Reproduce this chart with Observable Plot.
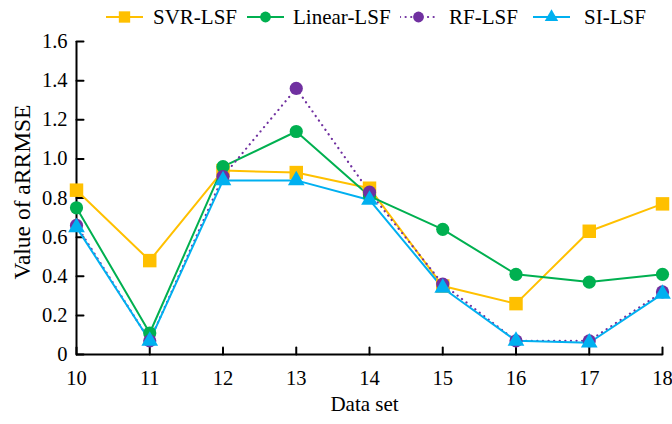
<!DOCTYPE html>
<html>
<head>
<meta charset="utf-8">
<script src="https://cdn.jsdelivr.net/npm/d3@7"></script>
<script src="https://cdn.jsdelivr.net/npm/@observablehq/plot@0.6"></script>
<style>
  html, body { margin: 0; padding: 0; background: #fff; }
  body { width: 672px; height: 424px; overflow: hidden; font-family: "Liberation Serif", serif; }
  #legend { position: relative; height: 32px; width: 672px; }
  .item { position: absolute; top: 0; height: 32px; display: flex; align-items: center; font-size: 21px; color: #000; white-space: nowrap; font-family: "Liberation Serif", serif; }
  .item svg { display: block; }
  #chart svg text { font-family: "Liberation Serif", serif; }
</style>
</head>
<body>
<div id="legend"></div>
<div id="chart"></div>
<script>
const dataSets = [10, 11, 12, 13, 14, 15, 16, 17, 18];
const seriesNames = ["SVR-LSF", "Linear-LSF", "RF-LSF", "SI-LSF"];
const svrValues    = [0.84, 0.48, 0.94, 0.93, 0.85, 0.35, 0.26, 0.63, 0.77];
const linearValues = [0.75, 0.11, 0.96, 1.14, 0.81, 0.64, 0.41, 0.37, 0.41];
const rfValues     = [0.66, 0.07, 0.91, 1.36, 0.83, 0.36, 0.07, 0.07, 0.32];
const siValues     = [0.65, 0.07, 0.89, 0.89, 0.79, 0.34, 0.07, 0.06, 0.31];
const yTicks = [0, 0.2, 0.4, 0.6, 0.8, 1.0, 1.2, 1.4, 1.6];
const yTickLabels = ["0", "0.2", "0.4", "0.6", "0.8", "1.0", "1.2", "1.4", "1.6"];
const xTicks = [10, 11, 12, 13, 14, 15, 16, 17, 18];

const colors = ["#FFC000", "#00B050", "#7030A0", "#00B0F0"];
const symbols = ["square", "circle", "circle", "triangle"];
const radii = [7.6, 6.6, 6.6, 6.2];
const dashes = [null, null, "0.1 5.5", null];
const lineWidths = [2, 2, 2.2, 2];
const allValues = [svrValues, linearValues, rfValues, siValues];
const serif = "'Liberation Serif', serif";

const series = seriesNames.map((name, i) => ({
  name, color: colors[i], symbol: symbols[i], r: radii[i], dash: dashes[i], sw: lineWidths[i],
  data: dataSets.map((x, j) => ({x, y: allValues[i][j]}))
}));

// legend
const legendPos = [[106, 153], [247, 293], [400, 449], [533, 584]];
const legend = document.getElementById("legend");
series.forEach((s, i) => {
  const [sx, tx] = legendPos[i];
  const sw = document.createElement("div");
  sw.className = "item";
  sw.style.left = sx + "px";
  const w = 37;
  const sym = d3.symbol(s.symbol === "square" ? d3.symbolSquare : s.symbol === "triangle" ? d3.symbolTriangle : d3.symbolCircle, Math.PI * (s.r - 1.2) ** 2)();
  sw.innerHTML = `<svg width="${w}" height="32"><line x1="0" x2="${w}" y1="17" y2="17" stroke="${s.color}" stroke-width="${s.sw}" ${s.dash ? `stroke-dasharray="${s.dash}" stroke-linecap="round"` : ""}/><path d="${sym}" transform="translate(${w/2},17)" fill="${s.color}"/></svg>`;
  legend.appendChild(sw);
  const t = document.createElement("div");
  t.className = "item";
  t.style.left = tx + "px";
  t.style.top = "1px";
  t.textContent = s.name;
  legend.appendChild(t);
});

const tickShape = {draw(ctx, l) { ctx.moveTo(0, 0); ctx.lineTo(0, -l); }};
const marks = [];
// axis lines
marks.push(Plot.ruleX([10], {stroke: "#000", strokeWidth: 2}));
marks.push(Plot.ruleY([0], {stroke: "#000", strokeWidth: 2}));
// tick labels
marks.push(Plot.axisY(yTicks, {tickSize: 0, tickPadding: 9, tickFormat: (d, i) => yTickLabels[i], fontSize: 20.5, fontFamily: serif, label: null}));
marks.push(Plot.axisX(xTicks, {tickSize: 0, tickPadding: 16, tickFormat: d => String(d), fontSize: 20.5, fontFamily: serif, label: null}));
// inward tick marks
marks.push(Plot.vector(yTicks, {x: () => 10, y: d => d, length: 7, rotate: 90, anchor: "start", stroke: "#000", strokeWidth: 2, shape: tickShape}));
marks.push(Plot.vector(xTicks, {x: d => d, y: () => 0, length: 7, rotate: 0, anchor: "start", stroke: "#000", strokeWidth: 2, shape: tickShape}));

series.forEach(s => {
  marks.push(Plot.line(s.data, {x: "x", y: "y", stroke: s.color, strokeWidth: s.sw, strokeDasharray: s.dash, strokeLinecap: s.dash ? "round" : "butt"}));
});
series.forEach(s => {
  marks.push(Plot.dot(s.data, {x: "x", y: "y", fill: s.color, symbol: s.symbol, r: s.r, stroke: "none"}));
});

marks.push(Plot.text(["Value of aRRMSE"], {frameAnchor: "left", textAnchor: "middle", rotate: -90, dx: -54, dy: -6, fontSize: 23.5, fontFamily: serif}));
marks.push(Plot.text(["Data set"], {frameAnchor: "bottom", textAnchor: "middle", dy: 56, dx: -5, fontSize: 21, fontFamily: serif}));

const chart = Plot.plot({
  width: 672,
  height: 392,
  marginLeft: 76,
  marginRight: 10,
  marginTop: 9,
  marginBottom: 70,
  style: {fontFamily: serif, color: "#000", background: "#fff", overflow: "visible"},
  x: {type: "linear", domain: [10, 18], axis: null},
  y: {type: "linear", domain: [0, 1.6], axis: null},
  marks
});
document.getElementById("chart").appendChild(chart);
</script>
</body>
</html>
